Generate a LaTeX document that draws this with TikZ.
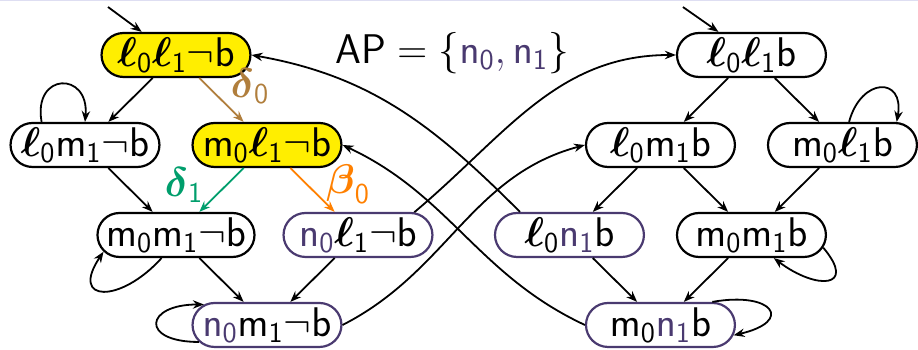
\documentclass[tikz,border=0pt]{standalone}
\usepackage{amsmath}
\usepackage{tikz}
\usetikzlibrary{shapes.misc,arrows.meta}
\definecolor{kyellow}{RGB}{255,238,0}
\definecolor{kdeltaA}{RGB}{176,126,60}
\definecolor{kdeltaB}{RGB}{0,158,108}
\definecolor{kbeta}{RGB}{255,128,0}
\definecolor{kprop}{RGB}{74,58,112}
\definecolor{kstroke}{RGB}{0,0,0}
\definecolor{ktop}{RGB}{222,222,242}

\newcommand{\lv}[1]{\boldsymbol{\ell}_{\mathsf{#1}}}
\newcommand{\mv}[1]{\mathsf{m}_{\mathsf{#1}}}
\newcommand{\nv}[1]{{\color{kprop}\mathsf{n}_{\mathsf{#1}}}}
\newcommand{\nbit}{\neg\mathsf{b}}
\newcommand{\bit}{\mathsf{b}}

\begin{document}
\begin{tikzpicture}[
    x=1.6cm, y=1.5824cm,
    >={Stealth[length=5.5pt,width=4.2pt]},
    state/.style={draw=kstroke, rounded rectangle, minimum width=74.5pt, minimum height=22pt, inner sep=0pt, line width=1.1pt},
    hold/.style={state, draw=kprop},
    trans/.style={->, line width=0.9pt},
    every node/.style={font=\fontsize{20}{24}\selectfont\sffamily},
]
  \useasboundingbox (-0.934,-3.267) rectangle (9.154,0.611);
  \fill[ktop] (-0.934,0.611) rectangle (9.154,0.595);
  % left half: not b
  \node[state, fill=kyellow] (L00) at (1,0) {$\lv0\lv1\nbit$};
  \node[state] (L01) at (0,-1) {$\lv0\mv1\nbit$};
  \node[state, fill=kyellow] (L10) at (2,-1) {$\mv0\lv1\nbit$};
  \node[state] (L11) at (1,-2) {$\mv0\mv1\nbit$};
  \node[hold] (N0L) at (3,-2) {$\nv0\lv1\nbit$};
  \node[hold] (N0M) at (2,-3) {$\nv0\mv1\nbit$};
  % right half: b
  \node[state] (R00) at (7.324,0) {$\lv0\lv1\bit$};
  \node[state] (R01) at (6.324,-1) {$\lv0\mv1\bit$};
  \node[state] (R10) at (8.324,-1) {$\mv0\lv1\bit$};
  \node[state] (R11) at (7.324,-2) {$\mv0\mv1\bit$};
  \node[hold] (RN1) at (5.324,-2) {$\lv0\nv1\bit$};
  \node[hold] (RMN) at (6.324,-3) {$\mv0\nv1\bit$};
  \coordinate (initL) at (0.253,0.533);
  \coordinate (initR) at (6.571,0.533);
  \draw[trans] (initL) -- (L00.146);
  \draw[trans] (initR) -- (R00.145);
  \draw[trans] (L00) -- (L01);
  \draw[trans, kdeltaA] (L00) -- (L10);
  \draw[trans] (L01) -- (L11);
  \draw[trans, kdeltaB] (L10) -- (L11);
  \draw[trans, kbeta] (L10) -- (N0L);
  \draw[trans] (L11) -- (N0M);
  \draw[trans] (N0L) -- (N0M);
  \draw[trans] (R00) -- (R01);
  \draw[trans] (R00) -- (R10);
  \draw[trans] (R01) -- (RN1);
  \draw[trans] (R01) -- (R11);
  \draw[trans] (R10) -- (R11);
  \draw[trans] (RN1) -- (RMN);
  \draw[trans] (R11) -- (RMN);
  % self loops
  \draw[trans] (L01.152) to[out=100, in=85, looseness=3] (L01.north);
  \draw[trans] (L11.238) to[out=228, in=236, looseness=2.7] (L11.193);
  \draw[trans] (N0M.194) to[out=180, in=180, looseness=4] (N0M.162);
  \draw[trans] (R10.74) to[out=75, in=80, looseness=2.5] (R10.23);
  \draw[trans] (R11.-10) to[out=-50, in=-37, looseness=2.7] (R11.-46);
  \draw[trans] (RMN.24) to[out=10, in=13, looseness=4] (RMN.-8);
  % crossing transitions
  \draw[trans] (N0L.22) to[out=40, in=180] (R00.west);
  \draw[trans] (N0M.east) to[out=27, in=195] (R01.west);
  \draw[trans] (RN1.155) to[out=135, in=-10] (L00.east);
  \draw[trans] (RMN.west) to[out=155, in=-25] (L10.east);
  % labels
  \node[text=kdeltaA] (lbdA) at (1.813,-0.344) {$\boldsymbol{\delta}_{\mathsf 0}$};
  \node[text=kdeltaB] (lbdB) at (1.088,-1.444) {$\boldsymbol{\delta}_{\mathsf 1}$};
  \node[text=kbeta] (lbb) at (2.890,-1.433) {$\boldsymbol{\beta}_{\mathsf 0}$};
  \node (ap) at (4.033,0.022) {$\mathsf{AP}=\{{\color{kprop}\mathsf{n}_{\mathsf 0},\mathsf{n}_{\mathsf 1}}\}$};
\end{tikzpicture}
\end{document}
